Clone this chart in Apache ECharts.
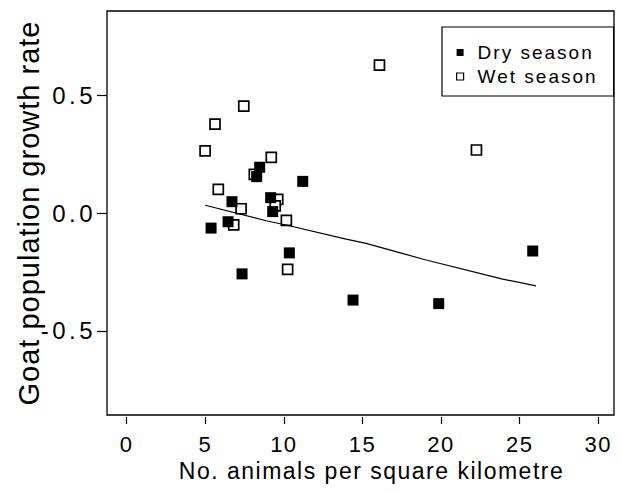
<!DOCTYPE html>
<html>
<head>
<meta charset="utf-8">
<script src="https://cdn.jsdelivr.net/npm/echarts@6/dist/echarts.min.js"></script>
<style>
html,body{margin:0;padding:0;background:#fff;}
#chart{width:621px;height:493px;}
#chart text[style*="24px"]{letter-spacing:3.5px;}
#chart text[style*="22px"]{letter-spacing:1.5px;}
#chart text[style*="23px"]{letter-spacing:1.5px;}
#chart text[style*="29px"]{letter-spacing:1px;}
#chart text[style*="19px"]{letter-spacing:2px;}
</style>
</head>
<body>
<div id="chart"></div>
<script>
// Data
const drySeason = [
  [8.46, 0.194], [8.27, 0.154], [11.2, 0.134], [6.70, 0.048], [9.16, 0.065],
  [9.29, 0.006], [6.45, -0.037], [5.37, -0.064], [10.35, -0.169], [7.34, -0.258],
  [25.83, -0.161], [19.85, -0.384], [14.4, -0.369]
];
const wetSeason = [
  [16.08, 0.627], [7.45, 0.453], [5.62, 0.377], [4.99, 0.263], [9.2, 0.236],
  [8.12, 0.164], [5.83, 0.10], [9.61, 0.058], [9.45, 0.03], [7.28, 0.018],
  [10.16, -0.031], [6.81, -0.05], [10.24, -0.239], [22.25, 0.267]
];
const fitLine = [
  [5.0, 0.033], [8.87, -0.033], [10.14, -0.051], [13.96, -0.111], [15.23, -0.129],
  [17.35, -0.168], [19.05, -0.199], [23.92, -0.28], [26.04, -0.309]
];
const xTickValues = [0, 5, 10, 15, 20, 25, 30];
const yTickValues = [-0.5, 0.0, 0.5];
const seriesNames = ['Dry season', 'Wet season'];
const xTitle = 'No. animals per square kilometre';
const yTitle = 'Goat population growth rate';

const FONT = '"Liberation Sans", Arial, sans-serif';
const chart = echarts.init(document.getElementById('chart'), null, {renderer: 'svg'});
chart.setOption({
  animation: false,
  backgroundColor: '#fff',
  grid: {
    left: 107, right: 7, top: 11, bottom: 78,
    show: true, borderColor: '#000', borderWidth: 1.3, backgroundColor: 'transparent'
  },
  legend: {
    left: 442, top: 27,
    orient: 'vertical',
    padding: [16, 36, 10, 14],
    itemGap: 5,
    itemWidth: 7, itemHeight: 7,
    borderColor: '#000', borderWidth: 1.2,
    textStyle: {fontFamily: FONT, fontSize: 19, color: '#000', padding: [0, 0, 0, 9]},
    data: [
      {name: seriesNames[0], icon: 'rect', itemStyle: {color: '#000', borderWidth: 0}},
      {name: seriesNames[1], icon: 'rect', itemStyle: {color: '#fff', borderColor: '#000', borderWidth: 1.2}}
    ]
  },
  xAxis: {
    type: 'value', min: -1.25, max: 31, offset: 2,
    name: xTitle, nameLocation: 'middle', nameGap: 40,
    nameTextStyle: {fontFamily: FONT, fontSize: 23, color: '#000', padding: [0, 0, 0, 22]},
    axisLine: {show: false, onZero: false},
    axisTick: {show: true, length: 7, lineStyle: {color: '#000', width: 1.2}, customValues: xTickValues},
    axisLabel: {fontFamily: FONT, fontSize: 22, color: '#000', margin: 16, customValues: xTickValues},
    splitLine: {show: false}
  },
  yAxis: {
    type: 'value', min: -0.856, max: 0.856,
    name: yTitle, nameLocation: 'middle', nameGap: 61,
    nameTextStyle: {fontFamily: FONT, fontSize: 29, color: '#000'},
    axisLine: {show: false, onZero: false},
    axisTick: {show: true, length: 10, lineStyle: {color: '#000', width: 1.2}, customValues: yTickValues},
    axisLabel: {fontFamily: FONT, fontSize: 24, color: '#000', margin: 11, customValues: yTickValues,
      formatter: v => v.toFixed(1)},
    splitLine: {show: false}
  },
  series: [
    {
      name: seriesNames[1], type: 'scatter', data: wetSeason, symbol: 'rect', symbolSize: 10, z: 2,
      itemStyle: {color: '#fff', borderColor: '#000', borderWidth: 1.7, opacity: 1}
    },
    {
      name: seriesNames[0], type: 'scatter', data: drySeason, symbol: 'rect', symbolSize: 11, z: 3,
      itemStyle: {color: '#000', opacity: 1}
    },
    {
      name: 'fit', type: 'line', data: fitLine, showSymbol: false, symbol: 'none', z: 4,
      lineStyle: {color: '#000', width: 1.2}, silent: true
    }
  ]
});
</script>
</body>
</html>
